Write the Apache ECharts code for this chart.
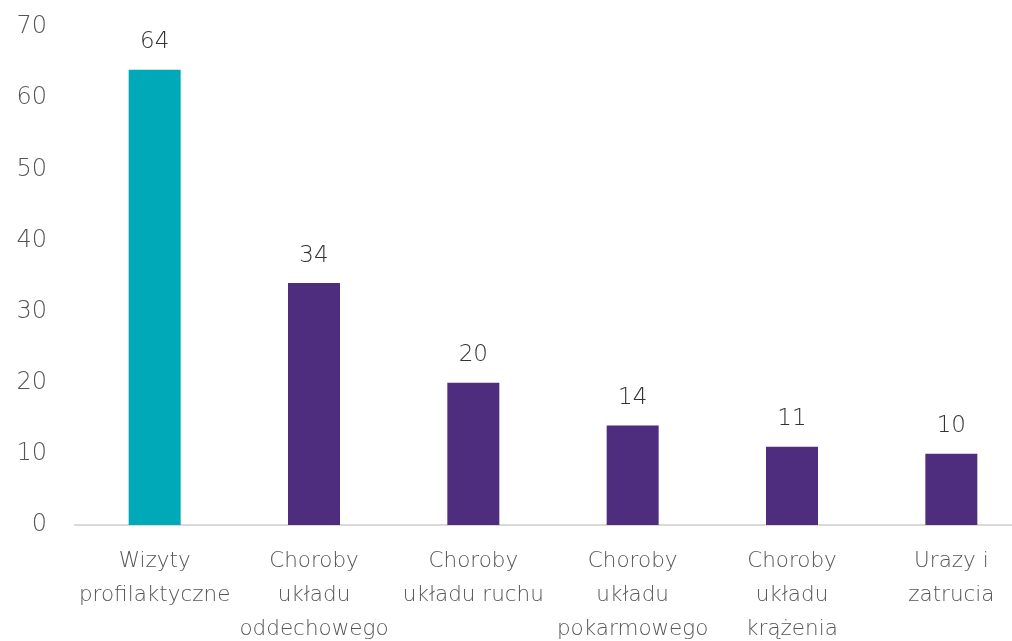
<!DOCTYPE html>
<html>
<head>
<meta charset="utf-8">
<script src="https://cdn.jsdelivr.net/npm/echarts@6/dist/echarts.min.js"></script>
<style>html,body{margin:0;padding:0;background:#fff;}#c{width:1012px;height:641px;}</style>
</head>
<body>
<div id="c"></div>
<script>
var categories = ['Wizyty\nprofilaktyczne', 'Choroby\nukładu\noddechowego', 'Choroby\nukładu ruchu', 'Choroby\nukładu\npokarmowego', 'Choroby\nukładu\nkrążenia', 'Urazy i\nzatrucia'];
var values = [64, 34, 20, 14, 11, 10];
var barColors = ['#00A9B7', '#4E2D7E', '#4E2D7E', '#4E2D7E', '#4E2D7E', '#4E2D7E'];
var yTicks = [0, 10, 20, 30, 40, 50, 60, 70];

var chart = echarts.init(document.getElementById('c'));
var font = '"DejaVu Sans", "Open Sans", sans-serif';
chart.setOption({
  animation: false,
  grid: {left: 75, right: -19, top: 27, bottom: 116, containLabel: false, outerBoundsMode: 'none'},
  xAxis: {
    type: 'category',
    data: categories,
    axisLine: {show: true, lineStyle: {color: '#D9D9D9', width: 2}},
    axisTick: {show: false},
    axisLabel: {color: '#555555', fontSize: 21.5, fontWeight: 200, fontFamily: font, lineHeight: 34, margin: 19, interval: 0}
  },
  yAxis: {
    type: 'value',
    min: yTicks[0], max: yTicks[yTicks.length - 1], interval: 10,
    splitLine: {show: false},
    axisLine: {show: false},
    axisTick: {show: false},
    axisLabel: {color: '#555555', fontSize: 24, fontWeight: 200, fontFamily: font, margin: 28}
  },
  series: [{
    type: 'bar',
    data: values.map(function (v, i) { return {value: v, itemStyle: {color: barColors[i]}}; }),
    barWidth: 52,
    label: {show: true, position: 'top', distance: 16, color: '#333333', fontSize: 23, fontWeight: 200, fontFamily: font}
  }]
});
</script>
</body>
</html>
